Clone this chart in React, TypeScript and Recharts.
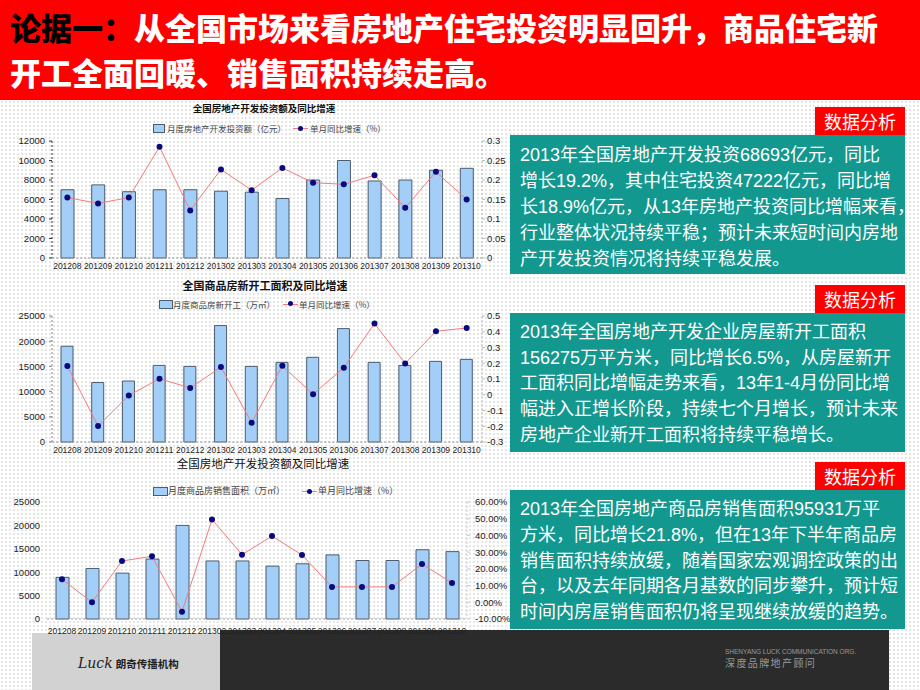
import React from 'react';
import { ComposedChart, Bar, Line, XAxis, YAxis } from 'recharts';

const months = ['201208', '201209', '201210', '201211', '201212', '201302', '201303', '201304', '201305', '201306', '201307', '201308', '201309', '201310'];

const investAmount = [7000, 7500, 6800, 7000, 7000, 6850, 6750, 6100, 8000, 10000, 7900, 8000, 9000, 9200];
const investGrowth = [0.155, 0.14, 0.155, 0.285, 0.122, 0.227, 0.174, 0.231, 0.193, 0.189, 0.212, 0.129, 0.221, 0.15];

const startsArea = [19000, 11800, 12100, 15200, 15000, 23100, 15000, 15800, 16800, 22500, 15800, 15200, 16000, 16400];
const startsGrowth = [0.182, -0.199, -0.005, 0.102, 0.043, 0.176, -0.178, 0.184, 0.003, 0.172, 0.452, 0.199, 0.403, 0.424];

const salesArea = [8900, 10800, 9800, 12800, 20000, 12400, 12400, 11300, 11800, 13700, 12500, 12500, 14800, 14400];
const salesGrowth = [13.8, 0, 24.7, 27.5, -5.6, 49.5, 28.5, 39.6, 28.3, 9.2, 9.2, 9.2, 22.9, 11.6];

const investTicks = [0, 2000, 4000, 6000, 8000, 10000, 12000];
const investGrowthTicks = [0, 0.05, 0.1, 0.15, 0.2, 0.25, 0.3];
const startsTicks = [0, 5000, 10000, 15000, 20000, 25000];
const startsGrowthTicks = [-0.3, -0.2, -0.1, 0, 0.1, 0.2, 0.3, 0.4, 0.5];
const salesTicks = [0, 5000, 10000, 15000, 20000, 25000];
const salesGrowthTicks = [-10, 0, 10, 20, 30, 40, 50, 60];

const title1 = '全国房地产开发投资额及同比增速';
const title2 = '全国商品房新开工面积及同比增速';
const title3 = '全国房地产开发投资额及同比增速';
const legendBar1 = '月度房地产开发投资额（亿元）';
const legendBar2 = '月度商品房新开工（万㎡）';
const legendBar3 = '月度商品房销售面积（万㎡）';
const legendLine = '单月同比增速（%）';

const headerLead = '论据一：';
const headerRest1 = '从全国市场来看房地产住宅投资明显回升，商品住宅新';
const headerLine2 = '开工全面回暖、销售面积持续走高。';

const box1Lines = [
  '2013年全国房地产开发投资68693亿元，同比',
  '增长19.2%，其中住宅投资47222亿元，同比增',
  '长18.9%亿元，从13年房地产投资同比增幅来看，',
  '行业整体状况持续平稳；预计未来短时间内房地',
  '产开发投资情况将持续平稳发展。',
];
const box2Lines = [
  '2013年全国房地产开发企业房屋新开工面积',
  '156275万平方米，同比增长6.5%，从房屋新开',
  '工面积同比增幅走势来看，13年1-4月份同比增',
  '幅进入正增长阶段，持续七个月增长，预计未来',
  '房地产企业新开工面积将持续平稳增长。',
];
const box3Lines = [
  '2013年全国房地产商品房销售面积95931万平',
  '方米，同比增长21.8%，但在13年下半年商品房',
  '销售面积持续放缓，随着国家宏观调控政策的出',
  '台，以及去年同期各月基数的同步攀升，预计短',
  '时间内房屋销售面积仍将呈现继续放缓的趋势。',
];
const tagText = '数据分析';

const BAR_FILL = '#A3CEF7';
const BAR_STROKE = '#4d5d6e';
const LINE_COLOR = '#F47C7C';
const DOT_COLOR = '#0A0A80';
const TEAL = '#12988F';
const CJK = '"Noto Sans CJK SC", "Noto Sans CJK JP", sans-serif';
const BOXFONT = '"Liberation Sans", "Noto Sans CJK SC", "Noto Sans CJK JP", sans-serif';
const LATIN = '"Liberation Sans", Arial, sans-serif';

type ChartProps = {
  top: number;
  height: number;
  data: { m: string; v: number; g: number }[];
  plotLeft: number;
  plotRight: number;
  plotTop: number;
  plotBottom: number;
  leftDomain: [number, number];
  leftTicks: number[];
  rightDomain: [number, number];
  rightTicks: number[];
  rightFmt: (v: number) => string;
  barSize: number;
  xTickMargin: number;
  leftAxisStroke: string;
  rightAxisStroke: string;
  yFont: number;
  rightMargin: number;
};

function DualChart(p: ChartProps) {
  const W = 510;
  return (
    <div style={{ position: 'absolute', left: 0, top: p.top }}>
      <ComposedChart width={W} height={p.height} data={p.data} margin={{ top: p.plotTop, right: 0, left: 0, bottom: 0 }}>
        <XAxis
          dataKey="m"
          interval={0}
          tickSize={0}
          tickMargin={p.xTickMargin}
          height={p.height - p.plotBottom}
          axisLine={{ stroke: '#9a9a9a', strokeDasharray: '2 2' }}
          tick={{ fontSize: 8.5, fill: '#222', fontFamily: LATIN }}
        />
        <YAxis
          yAxisId="l"
          width={p.plotLeft}
          domain={p.leftDomain}
          ticks={p.leftTicks}
          interval={0}
          tickSize={3}
          tickMargin={4}
          axisLine={{ stroke: p.leftAxisStroke, strokeDasharray: '2 2' }}
          tickLine={{ stroke: p.leftAxisStroke }}
          tick={{ fontSize: p.yFont, fill: '#222', fontFamily: LATIN }}
        />
        <YAxis
          yAxisId="r"
          orientation="right"
          width={W - p.plotRight}
          domain={p.rightDomain}
          ticks={p.rightTicks}
          interval={0}
          tickSize={3}
          tickMargin={p.rightMargin}
          tickFormatter={p.rightFmt}
          axisLine={{ stroke: p.rightAxisStroke, strokeDasharray: '2 2' }}
          tickLine={{ stroke: p.rightAxisStroke }}
          tick={{ fontSize: p.yFont, fill: '#222', fontFamily: LATIN, textAnchor: 'start' }}
        />
        <Bar yAxisId="l" dataKey="v" barSize={p.barSize} fill={BAR_FILL} stroke={BAR_STROKE} strokeWidth={1} isAnimationActive={false} />
        <Line
          yAxisId="r"
          dataKey="g"
          type="linear"
          stroke={LINE_COLOR}
          strokeWidth={1}
          dot={{ r: 3, fill: DOT_COLOR, stroke: DOT_COLOR, strokeWidth: 0 }}
          isAnimationActive={false}
        />
      </ComposedChart>
    </div>
  );
}

function ChartTitle({ text, cx, cy, size, weight }: { text: string; cx: number; cy: number; size: number; weight: number }) {
  return (
    <div
      style={{
        position: 'absolute',
        left: cx - 120,
        width: 240,
        top: cy - size,
        height: size * 2,
        lineHeight: `${size * 2}px`,
        textAlign: 'center',
        fontSize: size,
        fontWeight: weight,
        fontFamily: CJK,
        color: '#111',
        whiteSpace: 'nowrap',
      }}
    >
      {text}
    </div>
  );
}

function LegendRow({ cy, swatchX, swatchW, textX, barLabel, lineX, lineTextX, fontSize }: {
  cy: number; swatchX: number; swatchW: number; textX: number; barLabel: string; lineX: number; lineTextX: number; fontSize: number;
}) {
  return (
    <>
      <div style={{ position: 'absolute', left: swatchX, top: cy - 4, width: swatchW, height: 7, background: BAR_FILL, border: `1px solid ${BAR_STROKE}` }} />
      <div style={{ position: 'absolute', left: textX, top: cy - 8, height: 16, lineHeight: '16px', fontSize, fontFamily: CJK, color: '#444', whiteSpace: 'nowrap' }}>{barLabel}</div>
      <div style={{ position: 'absolute', left: lineX, top: cy, width: 15, height: 1, background: LINE_COLOR }} />
      <div style={{ position: 'absolute', left: lineX + 5, top: cy - 2.5, width: 5, height: 5, borderRadius: 3, background: DOT_COLOR }} />
      <div style={{ position: 'absolute', left: lineTextX, top: cy - 8, height: 16, lineHeight: '16px', fontSize, fontFamily: CJK, color: '#444', whiteSpace: 'nowrap' }}>{legendLine}</div>
    </>
  );
}

function TextBox({ top, lines, lineH, padTop }: { top: number; lines: string[]; lineH: number; padTop: number }) {
  return (
    <>
      <div style={{ position: 'absolute', left: 815, top: top - 28, width: 90, height: 28, background: '#FF0000', color: '#fff', fontFamily: CJK, fontSize: 18, lineHeight: '28px', textAlign: 'center' }}>
        {tagText}
      </div>
      <div style={{ position: 'absolute', left: 510, top, width: 395, height: 139, background: TEAL }}>
        {lines.map((l, i) => (
          <div
            key={i}
            style={{
              position: 'absolute',
              left: 10,
              top: padTop + i * lineH,
              height: lineH,
              lineHeight: `${lineH}px`,
              fontSize: 18,
              fontFamily: BOXFONT,
              color: '#fff',
              whiteSpace: 'nowrap',
            }}
          >
            {l}
          </div>
        ))}
      </div>
    </>
  );
}

export default function App() {
  const d1 = months.map((m, i) => ({ m, v: investAmount[i], g: investGrowth[i] }));
  const d2 = months.map((m, i) => ({ m, v: startsArea[i], g: startsGrowth[i] }));
  const d3 = months.map((m, i) => ({ m, v: salesArea[i], g: salesGrowth[i] }));

  return (
    <div
      style={{
        position: 'absolute',
        left: 0,
        top: 0,
        width: 920,
        height: 690,
        overflow: 'hidden',
        background: '#fff',
        backgroundImage: 'radial-gradient(#e4e4e4 0.7px, transparent 0.8px)',
        backgroundSize: '4px 4px',
        fontFamily: CJK,
      }}
    >
      {/* header */}
      <div style={{ position: 'absolute', left: 0, top: 0, width: 920, height: 100, background: '#FF0000' }} />
      <div style={{ position: 'absolute', left: 10, top: 6, height: 42, lineHeight: '42px', fontSize: 31, fontWeight: 900, fontFamily: CJK, whiteSpace: 'nowrap' }}>
        <span style={{ color: '#000' }}>{headerLead}</span>
        <span style={{ color: '#fff' }}>{headerRest1}</span>
      </div>
      <div style={{ position: 'absolute', left: 10, top: 51, height: 42, lineHeight: '42px', fontSize: 31, fontWeight: 900, fontFamily: CJK, color: '#fff', whiteSpace: 'nowrap' }}>
        {headerLine2}
      </div>

      {/* footer */}
      <div style={{ position: 'absolute', left: 32, top: 633, width: 188, height: 57, background: '#D2D2D2' }} />
      <div style={{ position: 'absolute', left: 220, top: 630, width: 669, height: 60, background: '#2B2B2B' }} />
      <div style={{ position: 'absolute', left: 78, top: 651, height: 20, lineHeight: '20px', whiteSpace: 'nowrap', color: '#222' }}>
        <span style={{ fontFamily: '"DejaVu Serif", serif', fontStyle: 'italic', fontSize: 14 }}>Luck</span>
        <span style={{ fontFamily: CJK, fontSize: 10.5, fontWeight: 700, marginLeft: 3 }}>朗奇传播机构</span>
      </div>
      <div style={{ position: 'absolute', left: 725, top: 648, fontSize: 6.5, lineHeight: '8px', color: '#9a9a9a', fontFamily: LATIN, whiteSpace: 'nowrap' }}>SHENYANG LUCK COMMUNICATION ORG.</div>
      <div style={{ position: 'absolute', left: 725, top: 656, fontSize: 10, lineHeight: '13px', color: '#9a9a9a', fontFamily: CJK, letterSpacing: 1.4, whiteSpace: 'nowrap' }}>深度品牌地产顾问</div>

      {/* chart 1 */}
      <ChartTitle text={title1} cx={264} cy={108} size={9.5} weight={700} />
      <LegendRow cy={128} swatchX={153} swatchW={10} textX={167} barLabel={legendBar1} lineX={293} lineTextX={310} fontSize={8.5} />
      <DualChart
        top={100}
        height={175}
        data={d1}
        plotLeft={52}
        plotRight={482}
        plotTop={41}
        plotBottom={158}
        leftDomain={[0, 12000]}
        leftTicks={investTicks}
        rightDomain={[0, 0.3]}
        rightTicks={investGrowthTicks}
        rightFmt={(v) => String(v)}
        barSize={13}
        xTickMargin={5}
        leftAxisStroke="#333"
        rightAxisStroke="#bbb"
        yFont={9.5}
        rightMargin={2}
      />

      {/* chart 2 */}
      <ChartTitle text={title2} cx={265} cy={285} size={11} weight={700} />
      <LegendRow cy={303.5} swatchX={159} swatchW={12} textX={173} barLabel={legendBar2} lineX={283} lineTextX={299} fontSize={8.5} />
      <DualChart
        top={270}
        height={190}
        data={d2}
        plotLeft={52}
        plotRight={482}
        plotTop={46}
        plotBottom={172}
        leftDomain={[0, 25000]}
        leftTicks={startsTicks}
        rightDomain={[-0.3, 0.5]}
        rightTicks={startsGrowthTicks}
        rightFmt={(v) => String(Math.round(v * 10) / 10)}
        barSize={12}
        xTickMargin={5}
        leftAxisStroke="#888"
        rightAxisStroke="#bbb"
        yFont={9.5}
        rightMargin={2}
      />

      {/* chart 3 */}
      <ChartTitle text={title3} cx={263} cy={463} size={11.5} weight={400} />
      <LegendRow cy={491} swatchX={153} swatchW={13} textX={168} barLabel={legendBar3} lineX={302} lineTextX={318} fontSize={9} />
      <DualChart
        top={455}
        height={180}
        data={d3}
        plotLeft={47}
        plotRight={467}
        plotTop={47}
        plotBottom={164}
        leftDomain={[0, 25000]}
        leftTicks={salesTicks}
        rightDomain={[-10, 60]}
        rightTicks={salesGrowthTicks}
        rightFmt={(v) => `${v.toFixed(2)}%`}
        barSize={13}
        xTickMargin={9}
        leftAxisStroke="rgba(0,0,0,0)"
        rightAxisStroke="#ccc"
        yFont={9.5}
        rightMargin={5}
      />

      {/* text boxes */}
      <TextBox top={135} lines={box1Lines} lineH={26} padTop={7} />
      <TextBox top={313} lines={box2Lines} lineH={25.7} padTop={7} />
      <TextBox top={490} lines={box3Lines} lineH={25.8} padTop={7} />
    </div>
  );
}
